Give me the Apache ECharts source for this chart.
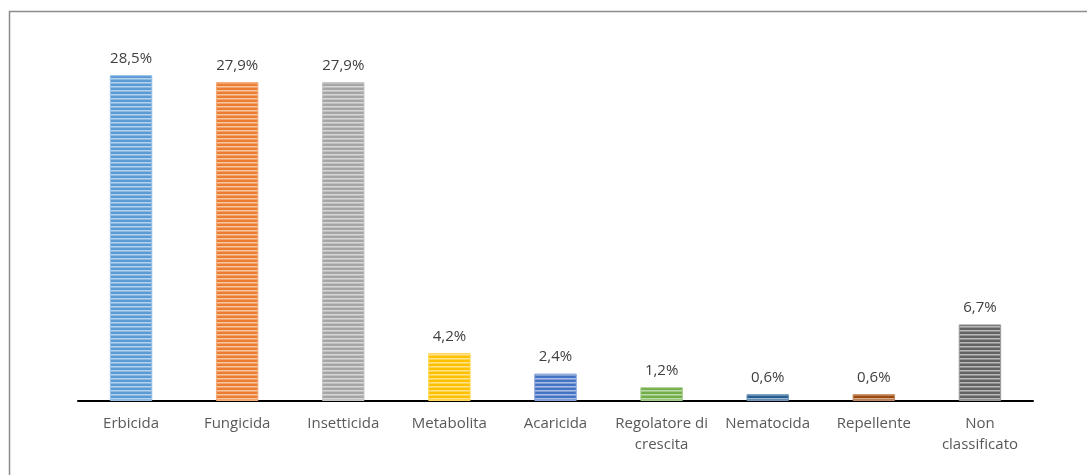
<!DOCTYPE html>
<html><head><meta charset="utf-8">
<script src="https://cdn.jsdelivr.net/npm/echarts@6/dist/echarts.min.js"></script>
<style>html,body{margin:0;padding:0;background:#fff}#c{width:1087px;height:475px}</style>
</head><body><div id="c"></div>
<script>
const categories = ['Erbicida','Fungicida','Insetticida','Metabolita','Acaricida','Regolatore di crescita','Nematocida','Repellente','Non classificato'];
const tickLabels = ['Erbicida','Fungicida','Insetticida','Metabolita','Acaricida','Regolatore di\ncrescita','Nematocida','Repellente','Non\nclassificato'];
const values = [28.5, 27.9, 27.9, 4.2, 2.4, 1.2, 0.6, 0.6, 6.7];
const colors = ['#5B9BD5','#ED7D31','#A5A5A5','#FFC000','#4472C4','#70AD47','#255E91','#9E480E','#636363'];

function mix(hex, t){
  const r=parseInt(hex.slice(1,3),16),g=parseInt(hex.slice(3,5),16),b=parseInt(hex.slice(5,7),16);
  const f=v=>Math.round(v+(255-v)*t);
  return 'rgb('+f(r)+','+f(g)+','+f(b)+')';
}
function stripe(hex){
  const c=document.createElement('canvas'); c.width=8; c.height=4;
  const x=c.getContext('2d');
  x.fillStyle=hex; x.fillRect(0,0,8,2);
  x.fillStyle=mix(hex,0.55); x.fillRect(0,2,8,1);
  x.fillStyle=mix(hex,0.3); x.fillRect(0,3,8,1);
  return c;
}
const FONT = 'Open Sans';
const chart = echarts.init(document.getElementById('c'), null, {renderer:'canvas'});
chart.setOption({
  animation:false,
  backgroundColor:'#fff',
  graphic:[{type:'rect', shape:{x:9.5,y:11.5,width:1100,height:500}, style:{fill:'none',stroke:'#8c8c8c',lineWidth:1.5}, silent:true, z:-1}],
  grid:{left:78, right:54, top:58, bottom:74},
  xAxis:{type:'category', data:tickLabels,
    axisLine:{lineStyle:{color:'#000',width:2}}, axisTick:{show:false},
    axisLabel:{color:'#595959', fontFamily:FONT, fontSize:15, margin:12, lineHeight:21, interval:0}},
  yAxis:{type:'value', min:0, max:30, show:false, splitLine:{show:false}},
  series:[{type:'bar', barWidth:'40%',
    data: values.map((v,i)=>({value:v, name:categories[i], itemStyle:{color:{image:stripe(colors[i]), repeat:'repeat'}, borderColor:mix(colors[i],0.35), borderWidth:1}})),
    label:{show:true, position:'top', distance:9, color:'#404040', fontFamily:FONT, fontSize:15,
      formatter:p=>p.value.toFixed(1).replace('.',',')+'%'}
  }]
});
</script></body></html>
